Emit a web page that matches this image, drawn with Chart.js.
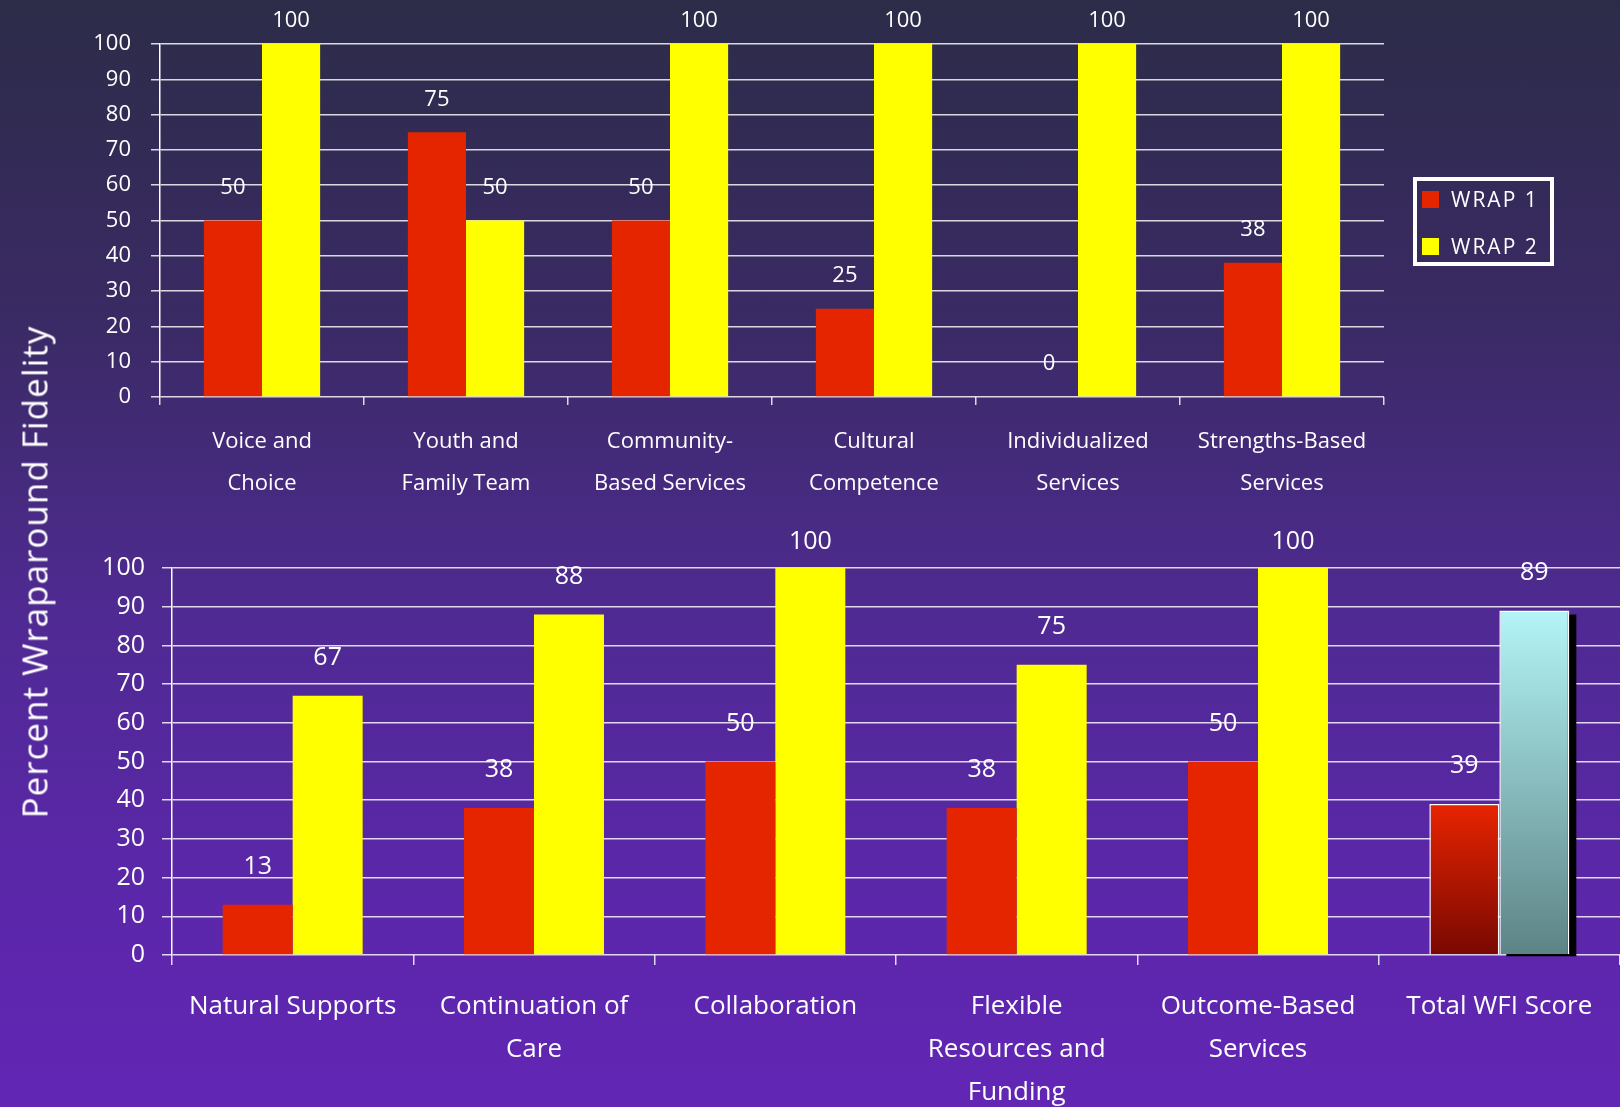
<!DOCTYPE html>
<html>
<head>
<meta charset="utf-8">
<script src="https://cdn.jsdelivr.net/npm/chart.js@4"></script>
<style>
  html, body { margin: 0; padding: 0; }
  body {
    width: 1620px; height: 1107px; overflow: hidden; position: relative;
    background: linear-gradient(to bottom, #2c2c48 0%, #3b2a66 30%, #4f2a92 55%, #5a27a8 78%, #6226b5 100%);
    font-family: "Open Sans", "DejaVu Sans", sans-serif; color: #fff;
  }
  canvas { position: absolute; left: 0; }
  #topChart { top: 0; }
  #bottomChart { top: 500px; }
  #ytitle {
    position: absolute; left: 34px; top: 572px;
    transform: translate(-50%, -50%) rotate(-90deg);
    white-space: nowrap; font-size: 35px; color: #fff; letter-spacing: 1px;
  }
  #legend {
    position: absolute; left: 1413px; top: 177px; width: 141px; height: 89px;
    box-sizing: border-box; border: 4px solid #fff;
  }
  .lg-item { position: absolute; left: 5px; height: 20px; display: flex; align-items: center; }
  .lg-sw { width: 17px; height: 17px; margin-right: 12px; }
  .lg-tx { font-size: 21px; letter-spacing: 2px; color: #fff; line-height: 20px; }
</style>
</head>
<body>
<canvas id="topChart" width="1620" height="500"></canvas>
<canvas id="bottomChart" width="1620" height="607"></canvas>
<div id="ytitle">Percent Wraparound Fidelity</div>
<div id="legend"></div>
<script>
// ---- data ----
const seriesNames = ['WRAP 1', 'WRAP 2'];
const topCategories = [
  ['Voice and', 'Choice'],
  ['Youth and', 'Family Team'],
  ['Community-', 'Based Services'],
  ['Cultural', 'Competence'],
  ['Individualized', 'Services'],
  ['Strengths-Based', 'Services']
];
const topWrap1 = [50, 75, 50, 25, 0, 38];
const topWrap2 = [100, 50, 100, 100, 100, 100];

const bottomCategories = [
  'Natural Supports',
  ['Continuation of', 'Care'],
  'Collaboration',
  ['Flexible', 'Resources and', 'Funding'],
  ['Outcome-Based', 'Services'],
  'Total WFI Score'
];
const bottomWrap1 = [13, 38, 50, 38, 50, 39];
const bottomWrap2 = [67, 88, 100, 75, 100, 89];
const totalIndex = 5;
const yTicks = [0, 10, 20, 30, 40, 50, 60, 70, 80, 90, 100];

// ---- styles ----
const FONT = '"Open Sans", "DejaVu Sans", sans-serif';
const RED = '#e52400';
const YELLOW = '#ffff00';
const GRID = 'rgba(255,255,255,0.82)';

Chart.defaults.font.family = FONT;
Chart.defaults.color = '#ffffff';

const valueLabels = {
  id: 'valueLabels',
  afterDatasetsDraw(chart, args, opts) {
    const ctx = chart.ctx;
    ctx.save();
    ctx.fillStyle = '#ffffff';
    ctx.font = opts.size + 'px ' + FONT;
    ctx.textAlign = 'center';
    ctx.textBaseline = 'middle';
    chart.data.datasets.forEach((ds, di) => {
      const meta = chart.getDatasetMeta(di);
      meta.data.forEach((el, i) => {
        let y = el.y - opts.offset;
        y = Math.max(y, chart.chartArea.top - opts.clamp);
        ctx.fillText(String(ds.data[i]), el.x, y);
      });
    });
    ctx.restore();
  }
};

const barShadow = {
  id: 'barShadow',
  beforeDatasetsDraw(chart, args, opts) {
    if (!opts.enabled) return;
    const el = chart.getDatasetMeta(1).data[totalIndex];
    if (!el) return;
    const ctx = chart.ctx;
    ctx.save();
    ctx.fillStyle = '#000000';
    const w = el.width;
    ctx.fillRect(el.x - w / 2 + 7, el.y + 4, w, el.base - el.y - 2);
    ctx.restore();
  }
};

function gradientFill(context, top, bottom, plain) {
  const chart = context.chart;
  if (context.dataIndex !== totalIndex || !chart.chartArea) return plain;
  const v = context.dataset.data[context.dataIndex];
  const y0 = chart.scales.y.getPixelForValue(v);
  const y1 = chart.scales.y.getPixelForValue(0);
  const g = chart.ctx.createLinearGradient(0, y0, 0, y1);
  g.addColorStop(0, top);
  g.addColorStop(1, bottom);
  return g;
}

function makeOptions(cfg) {
  return {
    responsive: false,
    animation: false,
    devicePixelRatio: 1,
    layout: { padding: { left: 0, right: cfg.padRight, top: cfg.padTop, bottom: 0 } },
    plugins: {
      legend: { display: false },
      tooltip: { enabled: false },
      valueLabels: { size: cfg.valueSize, offset: cfg.valueOffset, clamp: cfg.valueClamp },
      barShadow: { enabled: cfg.shadow }
    },
    datasets: { bar: { categoryPercentage: cfg.catPct, barPercentage: 1.0 } },
    scales: {
      x: {
        grid: { display: true, drawOnChartArea: false, offset: true, color: GRID, lineWidth: 1.5, tickLength: cfg.xTickLen },
        border: { display: false },
        ticks: { color: '#fff', font: { size: cfg.xFont, lineHeight: cfg.xLineHeight }, padding: cfg.xPad, maxRotation: 0, autoSkip: false },
        afterFit: (axis) => { axis.height = cfg.xHeight; }
      },
      y: {
        min: 0, max: 100,
        afterBuildTicks: (axis) => { axis.ticks = yTicks.map(v => ({ value: v })); },
        grid: { color: GRID, lineWidth: 1.5, tickLength: cfg.yTickLen, drawTicks: true },
        border: { display: true, color: '#ffffff', width: 1.5 },
        ticks: { color: '#fff', font: { size: cfg.yFont }, padding: cfg.yPad },
        afterFit: (axis) => { axis.width = cfg.yWidth; }
      }
    }
  };
}

const topChart = new Chart(document.getElementById('topChart'), {
  type: 'bar',
  data: {
    labels: topCategories,
    datasets: [
      { label: seriesNames[0], data: topWrap1, backgroundColor: RED, borderWidth: 0 },
      { label: seriesNames[1], data: topWrap2, backgroundColor: YELLOW, borderWidth: 0 }
    ]
  },
  options: makeOptions({
    padRight: 236, padTop: 44, catPct: 0.57,
    xTickLen: 8, xFont: 22, xLineHeight: 1.9, xPad: 16, xHeight: 103,
    yTickLen: 9, yFont: 22, yPad: 20, yWidth: 160,
    valueSize: 22, valueOffset: 33, valueClamp: 23, shadow: false
  }),
  plugins: [valueLabels, barShadow]
});

const bottomChart = new Chart(document.getElementById('bottomChart'), {
  type: 'bar',
  data: {
    labels: bottomCategories,
    datasets: [
      { label: seriesNames[0], data: bottomWrap1,
        backgroundColor: (c) => gradientFill(c, '#e82400', '#780800', RED),
        borderColor: '#ffffff', borderWidth: (c) => c.dataIndex === totalIndex ? 1.5 : 0 },
      { label: seriesNames[1], data: bottomWrap2,
        backgroundColor: (c) => gradientFill(c, '#b4f5f7', '#5d8385', YELLOW),
        borderColor: '#ffffff', borderWidth: (c) => c.dataIndex === totalIndex ? 1.5 : 0 }
    ]
  },
  options: makeOptions({
    padRight: 0, padTop: 68, catPct: 0.58,
    xTickLen: 10, xFont: 26, xLineHeight: 1.65, xPad: 20, xHeight: 152,
    yTickLen: 10, yFont: 25, yPad: 17, yWidth: 172,
    valueSize: 25, valueOffset: 38, valueClamp: 26, shadow: true
  }),
  plugins: [valueLabels, barShadow]
});

// legend built from the top chart's datasets
const legend = document.getElementById('legend');
topChart.data.datasets.forEach((ds, i) => {
  const item = document.createElement('div');
  item.className = 'lg-item';
  item.style.top = (i === 0 ? 8 : 55) + 'px';
  const sw = document.createElement('div');
  sw.className = 'lg-sw';
  sw.style.background = ds.backgroundColor;
  const tx = document.createElement('div');
  tx.className = 'lg-tx';
  tx.textContent = ds.label;
  item.appendChild(sw);
  item.appendChild(tx);
  legend.appendChild(item);
});
</script>
</body>
</html>
